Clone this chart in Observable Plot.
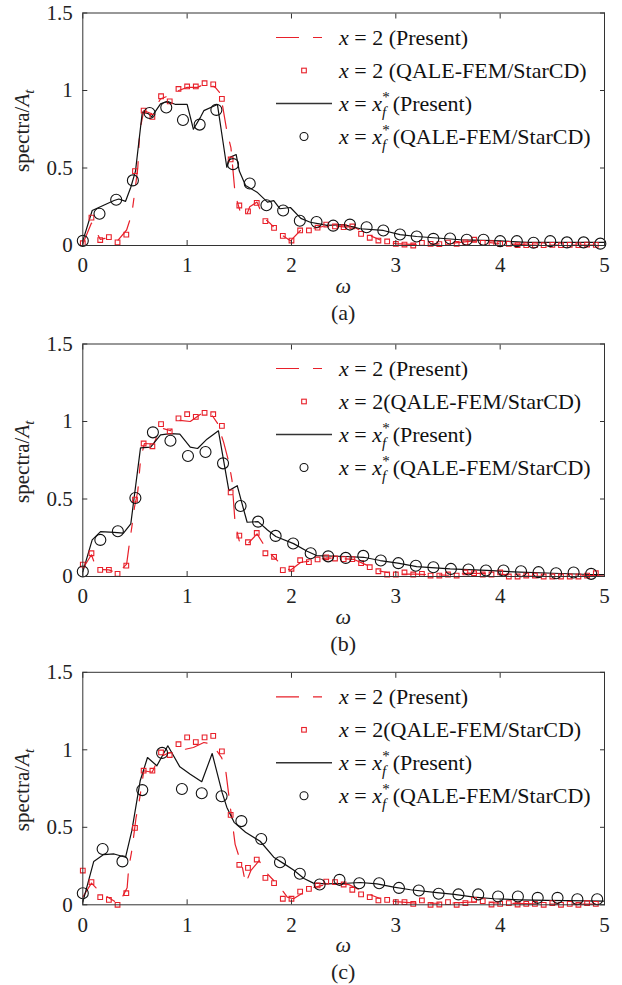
<!DOCTYPE html>
<html><head><meta charset="utf-8">
<script src="https://cdn.jsdelivr.net/npm/d3@7"></script>
<script src="https://cdn.jsdelivr.net/npm/@observablehq/plot@0.6"></script>
<style>
body{margin:0;background:#fff;}
#chart{width:622px;}
#chart svg{display:block;}
#chart svg, #chart svg text, #chart svg tspan{font-family:"Liberation Serif","Times New Roman",Times,serif !important;}
</style></head><body><div id="chart"></div>
<script>
// ---------- tick values & labels ----------
const xTicks = [0, 1, 2, 3, 4, 5];
const yTicks = [0, 0.5, 1, 1.5];
const panelCaptions = ["(a)", "(b)", "(c)"];
const squareLegendText = [" = 2 (QALE-FEM/StarCD)", " = 2(QALE-FEM/StarCD)", " = 2(QALE-FEM/StarCD)"];

// ---------- shared omega grid of the QALE-FEM/StarCD squares ----------
const squareOmega = [0,0.083,0.167,0.25,0.333,0.417,0.5,0.583,0.667,0.75,0.833,0.917,1,1.083,1.167,1.25,1.333,1.417,1.5,1.583,1.667,1.75,1.833,1.917,2,2.083,2.167,2.25,2.333,2.417,2.5,2.583,2.667,2.75,2.833,2.917,3,3.083,3.167,3.25,3.333,3.417,3.5,3.583,3.667,3.75,3.833,3.917,4,4.083,4.167,4.25,4.333,4.417,4.5,4.583,4.667,4.75,4.833,4.917];

// ---------- panel (a) ----------
const aSquareV = [0.015,0.18,0.035,0.054,0.02,0.07,0.48,0.87,0.83,0.963,0.93,1.01,1.026,1.026,1.047,1.04,0.946,0.555,0.258,0.22,0.275,0.157,0.114,0.062,0.032,0.097,0.097,0.115,0.135,0.123,0.118,0.123,0.075,0.05,0.032,0.026,0.011,0.006,0.0,0.017,0.011,0.009,0.019,0.011,0.02,0.037,0.017,0.015,0.011,0.011,0.002,0.002,0.002,0.002,0.004,0.002,0.004,0.002,0.006,0.004];
const aCircles = [[0,0.03],[0.16,0.205],[0.32,0.295],[0.48,0.42],[0.64,0.855],[0.8,0.89],[0.96,0.81],[1.12,0.78],[1.28,0.875],[1.44,0.525],[1.6,0.4],[1.76,0.26],[1.92,0.226],[2.08,0.16],[2.24,0.152],[2.4,0.128],[2.56,0.135],[2.72,0.118],[2.88,0.097],[3.04,0.071],[3.2,0.058],[3.36,0.043],[3.52,0.045],[3.68,0.037],[3.84,0.037],[4,0.028],[4.16,0.028],[4.32,0.018],[4.48,0.028],[4.64,0.02],[4.8,0.02],[4.96,0.012]];
const aSolid = [[0,0.03],[0.09,0.226],[0.2,0.26],[0.3,0.29],[0.345,0.3],[0.41,0.285],[0.46,0.376],[0.505,0.48],[0.57,0.86],[0.63,0.85],[0.66,0.83],[0.745,0.914],[0.81,0.93],[0.89,0.91],[1,0.91],[1.06,0.75],[1.13,0.83],[1.16,0.87],[1.29,0.91],[1.38,0.505],[1.415,0.57],[1.47,0.587],[1.5,0.48],[1.56,0.387],[1.67,0.344],[1.77,0.28],[1.83,0.29],[1.89,0.237],[1.99,0.245],[2.09,0.175],[2.18,0.15],[2.28,0.138],[2.34,0.13],[2.5,0.135],[2.66,0.108],[2.88,0.097],[3.04,0.07],[3.2,0.058],[3.36,0.05],[3.62,0.037],[3.94,0.032],[4.26,0.02],[4.58,0.02],[5,0.02]];
const aDashed = [[0,0.01],[0.083,0.145],[0.12,0.1],[0.167,0.04],[0.25,0.05],[0.333,0.03],[0.42,0.1],[0.47,0.204],[0.495,0.33],[0.527,0.5],[0.546,0.74],[0.585,0.87],[0.66,0.85],[0.745,0.946],[0.84,0.97],[0.92,1.0],[1,1.02],[1.1,1.02],[1.19,1.05],[1.27,1.02],[1.32,0.98],[1.38,0.74],[1.42,0.63],[1.46,0.33],[1.51,0.215],[1.56,0.18],[1.6,0.25],[1.67,0.28],[1.73,0.18],[1.8,0.14],[1.89,0.075],[1.99,0.03],[2.09,0.1],[2.25,0.115],[2.35,0.13],[2.5,0.12],[2.6,0.12],[2.7,0.08],[2.85,0.035],[3,0.012],[3.2,0.005],[3.5,0.012],[3.75,0.03],[4,0.012],[4.3,0.003],[5,0.003]];

// ---------- panel (b) ----------
const bSquareV = [0.077,0.15,0.043,0.043,0.017,0.07,0.496,0.858,0.84,0.983,0.936,1.02,1.047,1.03,1.056,1.047,0.972,0.543,0.264,0.221,0.281,0.15,0.127,0.041,0.05,0.105,0.093,0.11,0.124,0.116,0.112,0.112,0.086,0.06,0.034,0.013,0.013,0.026,0.013,0.017,0.006,0.006,0.013,0.006,0.026,0.021,0.013,0.013,0.026,0.0,0.0,0.006,0.006,0.0,0.0,0.0,0.0,0.0,0.006,0.021];
const bCircles = [[0,0.032],[0.168,0.236],[0.336,0.292],[0.504,0.506],[0.672,0.93],[0.84,0.876],[1.008,0.777],[1.176,0.803],[1.344,0.73],[1.512,0.455],[1.68,0.354],[1.848,0.262],[2.016,0.213],[2.184,0.15],[2.352,0.13],[2.52,0.12],[2.688,0.133],[2.856,0.103],[3.024,0.086],[3.192,0.069],[3.36,0.06],[3.528,0.049],[3.696,0.045],[3.864,0.039],[4.032,0.039],[4.2,0.034],[4.368,0.028],[4.536,0.021],[4.704,0.026],[4.872,0.017]];
const bSolid = [[0,0.03],[0.09,0.236],[0.17,0.29],[0.3,0.285],[0.39,0.28],[0.46,0.34],[0.553,0.83],[0.65,0.835],[0.745,0.914],[0.84,0.922],[0.93,0.918],[1.03,0.835],[1.1,0.826],[1.19,0.886],[1.3,0.94],[1.4,0.554],[1.48,0.586],[1.53,0.46],[1.575,0.35],[1.68,0.354],[1.77,0.3],[1.85,0.258],[2.02,0.212],[2.15,0.163],[2.24,0.135],[2.52,0.129],[2.69,0.124],[2.85,0.103],[3.02,0.086],[3.2,0.064],[3.52,0.049],[3.87,0.039],[4.19,0.028],[4.51,0.021],[4.87,0.013],[5,0.012]];
const bDashed = [[0,0.05],[0.083,0.14],[0.11,0.09],[0.167,0.045],[0.25,0.043],[0.333,0.02],[0.42,0.08],[0.45,0.23],[0.47,0.32],[0.495,0.446],[0.527,0.55],[0.553,0.75],[0.59,0.858],[0.68,0.855],[0.745,0.96],[0.84,0.94],[0.9,1.01],[1.03,1.0],[1.13,1.047],[1.22,1.058],[1.29,0.99],[1.35,0.865],[1.4,0.736],[1.43,0.62],[1.46,0.34],[1.51,0.2],[1.58,0.21],[1.67,0.275],[1.73,0.21],[1.8,0.146],[1.93,0.06],[1.99,0.04],[2.09,0.092],[2.2,0.1],[2.34,0.12],[2.5,0.115],[2.6,0.11],[2.7,0.08],[2.85,0.035],[3,0.015],[3.2,0.015],[3.5,0.008],[3.7,0.022],[4,0.015],[4.2,0.003],[4.6,0.0],[5,0.01]];

// ---------- panel (c) ----------
const cSquareV = [0.221,0.146,0.049,0.032,0.0,0.075,0.496,0.865,0.865,0.983,0.966,1.036,1.08,1.05,1.08,1.09,0.99,0.58,0.258,0.238,0.292,0.174,0.14,0.039,0.039,0.085,0.103,0.125,0.15,0.146,0.131,0.097,0.067,0.049,0.028,0.032,0.017,0.017,0.006,0.028,0.0,0.002,0.017,0.0,0.011,0.032,0.024,0.002,0.006,0.011,0.002,0.006,0.006,0.0,0.011,0.0,0.006,0.0,0.011,0.006];
const cCircles = [[0,0.075],[0.19,0.36],[0.38,0.28],[0.57,0.74],[0.76,0.98],[0.95,0.747],[1.14,0.72],[1.33,0.7],[1.52,0.54],[1.71,0.425],[1.89,0.275],[2.08,0.2],[2.27,0.131],[2.46,0.161],[2.65,0.139],[2.84,0.139],[3.03,0.109],[3.22,0.092],[3.41,0.071],[3.6,0.067],[3.79,0.067],[3.98,0.054],[4.17,0.054],[4.36,0.045],[4.55,0.045],[4.74,0.036],[4.93,0.036]];
const cSolid = [[0,0.017],[0.105,0.28],[0.2,0.324],[0.3,0.328],[0.41,0.307],[0.47,0.478],[0.55,0.8],[0.62,0.95],[0.71,0.897],[0.815,1.026],[0.93,0.89],[1.03,0.843],[1.14,0.794],[1.24,0.976],[1.335,0.725],[1.38,0.63],[1.45,0.532],[1.56,0.468],[1.7,0.41],[1.83,0.307],[1.93,0.264],[2.02,0.225],[2.12,0.17],[2.21,0.14],[2.34,0.135],[2.53,0.139],[2.66,0.144],[2.82,0.135],[2.98,0.114],[3.14,0.097],[3.37,0.08],[3.56,0.067],[3.75,0.049],[3.94,0.039],[4.19,0.032],[4.45,0.028],[5,0.024]];
const cDashed = [[0,0.05],[0.083,0.14],[0.17,0.08],[0.26,0.04],[0.345,0.006],[0.425,0.11],[0.44,0.24],[0.47,0.35],[0.51,0.56],[0.546,0.69],[0.585,0.865],[0.665,0.855],[0.73,0.95],[0.81,0.976],[0.89,0.99],[1.06,1.015],[1.16,1.047],[1.24,1.036],[1.33,0.95],[1.37,0.865],[1.41,0.65],[1.46,0.39],[1.53,0.24],[1.56,0.135],[1.61,0.22],[1.69,0.285],[1.74,0.22],[1.8,0.178],[1.89,0.114],[1.96,0.05],[2.02,0.039],[2.12,0.082],[2.2,0.11],[2.4,0.14],[2.55,0.13],[2.7,0.08],[2.85,0.04],[3,0.02],[3.2,0.01],[3.5,0.01],[3.8,0.02],[4,0.01],[4.5,0.005],[5,0.005]];

// ---------- styling / layout ----------
const FONT = '"Liberation Serif","Times New Roman",Times,serif';
const RED = "#e8202a";
const BLACK = "#111";
const AXIS = "#333";
const DASH = "23,14,9,14";
const W = 622, ML = 82.3, MR = 18, FH = 232.5;
const layouts = [{height: 331, top: 12.5}, {height: 328, top: 12.5}, {height: 326, top: 12.8}];
const panels = [
  {squares: aSquareV, circles: aCircles, solid: aSolid, dashed: aDashed},
  {squares: bSquareV, circles: bCircles, solid: bSolid, dashed: bDashed},
  {squares: cSquareV, circles: cCircles, solid: cSolid, dashed: cDashed}
];

// text with italic / sub / superscript parts, shifts are relative (dy)
function richText(sel, parts, x, y) {
  const t = sel.append("text").attr("x", x).attr("y", y).attr("text-anchor", "start");
  parts.forEach(p => {
    const s = t.append("tspan").text(p.t);
    if (p.i) s.attr("font-style", "italic");
    if (p.fs) s.attr("font-size", p.fs);
    if (p.dx) s.attr("dx", p.dx);
    if (p.dy) s.attr("dy", p.dy);
  });
  return t;
}

function buildPanel(k) {
  const L = layouts[k], P = panels[k];
  const squares = squareOmega.map((w, i) => [w, P.squares[i]]);
  const svg = Plot.plot({
    width: W, height: L.height,
    marginLeft: ML, marginRight: MR, marginTop: L.top, marginBottom: L.height - L.top - FH,
    x: {domain: [0, 5]},
    y: {domain: [0, 1.5]},
    style: {fontSize: "21px", color: "#222", background: "#fff", overflow: "visible"},
    marks: [
      Plot.line(P.dashed, {x: d => d[0], y: d => d[1], stroke: RED, strokeWidth: 1.2, strokeDasharray: DASH}),
      Plot.line(P.solid, {x: d => d[0], y: d => d[1], stroke: BLACK, strokeWidth: 1.2}),
      Plot.dot(squares, {x: d => d[0], y: d => d[1], symbol: "square", r: 2.65, stroke: RED, strokeWidth: 1.1, fill: "none"}),
      Plot.dot(P.circles, {x: d => d[0], y: d => d[1], r: 5.5, stroke: BLACK, strokeWidth: 1.1, fill: "none"}),
      Plot.frame({stroke: AXIS, strokeWidth: 1}),
      Plot.axisX(xTicks, {anchor: "bottom", tickSize: -5, tickPadding: 17, label: null, tickFormat: d => `${d}`, stroke: AXIS}),
      Plot.axisX(xTicks, {anchor: "top", tickSize: -5, label: null, tickFormat: () => "", stroke: AXIS}),
      Plot.axisY(yTicks, {anchor: "left", tickSize: -5, tickPadding: 15, label: null, tickFormat: d => `${d}`, stroke: AXIS}),
      Plot.axisY(yTicks, {anchor: "right", tickSize: -5, label: null, tickFormat: () => "", stroke: AXIS})
    ]
  });

  const s = d3.select(svg);
  const top = L.top, bottom = L.top + FH, cx = ML + (W - ML - MR) / 2;
  // y label
  const yl = s.append("text").attr("font-size", 21).attr("fill", "#222")
    .attr("text-anchor", "middle").attr("transform", `translate(29,${top + FH / 2 + 2}) rotate(-90)`);
  yl.append("tspan").text("spectra/");
  yl.append("tspan").text("A").attr("font-style", "italic");
  yl.append("tspan").text("t").attr("font-style", "italic").attr("font-size", 15).attr("dy", 5);
  // x label and caption
  s.append("text").attr("font-size", 22).attr("font-style", "italic").attr("fill", "#222")
    .attr("text-anchor", "middle").attr("x", cx).attr("y", bottom + 48).text("ω");
  s.append("text").attr("font-size", 22).attr("fill", "#222")
    .attr("text-anchor", "middle").attr("x", cx).attr("y", bottom + 75).text(panelCaptions[k]);

  // legend
  const g = s.append("g").attr("font-size", 22).attr("fill", "#111").attr("text-anchor", "start");
  const rows = [25, 58, 91, 124].map(d => top + d);
  const sx1 = 276, sx2 = 332, mx = 304, tx = 339, base = 7;
  g.append("line").attr("x1", sx1).attr("x2", sx2).attr("y1", rows[0]).attr("y2", rows[0])
    .attr("stroke", RED).attr("stroke-width", 1.2).attr("stroke-dasharray", DASH);
  g.append("rect").attr("x", mx - 2.3).attr("y", rows[1] - 2.3).attr("width", 4.6).attr("height", 4.6)
    .attr("fill", "none").attr("stroke", RED).attr("stroke-width", 1.1);
  g.append("line").attr("x1", sx1).attr("x2", sx2).attr("y1", rows[2]).attr("y2", rows[2])
    .attr("stroke", "#333").attr("stroke-width", 1.4);
  g.append("circle").attr("cx", mx).attr("cy", rows[3]).attr("r", 4)
    .attr("fill", "none").attr("stroke", BLACK).attr("stroke-width", 1.1);

  richText(g, [{t: "x", i: true}, {t: " = 2 (Present)"}], tx, rows[0] + base);
  richText(g, [{t: "x", i: true}, {t: squareLegendText[k]}], tx, rows[1] + base);
  const xf = [{t: "x", i: true}, {t: " = "}, {t: "x", i: true},
              {t: "f", i: true, fs: 15, dy: 6}, {t: "*", fs: 15, dx: -4, dy: -15}];
  richText(g, xf.concat([{t: "(Present)", dx: 3, dy: 9}]), tx, rows[2] + base);
  richText(g, xf.concat([{t: "(QALE-FEM/StarCD)", dx: 3, dy: 9}]), tx, rows[3] + base);
  return svg;
}

const root = document.getElementById("chart");
[0, 1, 2].forEach(k => root.appendChild(buildPanel(k)));
</script>
</body></html>
